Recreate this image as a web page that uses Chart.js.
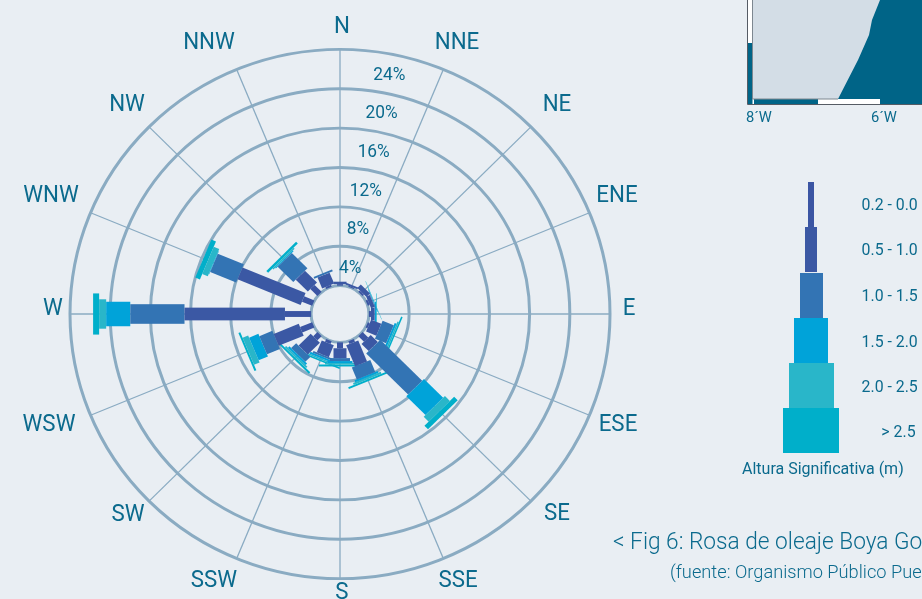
<!DOCTYPE html>
<html><head><meta charset="utf-8">
<script src="https://cdn.jsdelivr.net/npm/chart.js@4/dist/chart.umd.js"></script>
<style>
html,body{margin:0;padding:0;background:#e9eef3;width:922px;height:599px;overflow:hidden}
#wrap{position:relative;width:922px;height:599px;overflow:hidden}
canvas{position:absolute;left:0;top:0}
.t{position:absolute;color:#0b6a8d;font-family:Roboto,sans-serif;white-space:nowrap;transform-origin:0 50%;line-height:1}
.b{position:absolute}
</style></head><body>
<div id="wrap">
<canvas id="c" width="922" height="599"></canvas>
<svg style="position:absolute;left:0;top:0" width="922" height="130">
  <rect x="747" y="0" width="175" height="104" fill="#fff"/>
  <rect x="752.5" y="0" width="170" height="99" fill="#d3dde6"/>
  <polygon points="880,0 872,20 869,35 858,60 838,99 922,99 922,0" fill="#006487"/>
  <rect x="747" y="43" width="5.5" height="61" fill="#006487"/>
  <rect x="754" y="99" width="64" height="5" fill="#006487"/>
  <rect x="880" y="99" width="42" height="5" fill="#006487"/>
  <polyline points="747.5,0 747.5,104.5 922,104.5" fill="none" stroke="#555b64" stroke-width="1"/>
  <polyline points="752.5,0 752.5,99 838,99" fill="none" stroke="#7d8790" stroke-width="1"/>
</svg>
<div id="overlay"></div>
</div>
<script>
const directions = ['N','NNE','NE','ENE','E','ESE','SE','SSE','S','SSW','SW','WSW','W','WNW','NW','NNW'];
const class0 = [0.15,0.1,0.2,0.2,0.2,0.2,0.8,0.3,0.6,0.3,0.6,1.3,2.6,1.1,1.0,0.2];
const class1 = [0.25,0.2,0.5,0.4,0.35,1.1,1.0,2.3,1.0,1.3,1.7,2.7,10,6.8,1.7,1.2];
const class2 = [0,0,0,0.05,0.05,1.2,5.9,1.3,0.3,0.2,0.7,1.4,5.4,2.8,2.2,0.2];
const class3 = [0,0,0,0.05,0.1,0.2,2.7,0.2,0.2,0.2,0.2,1.0,2.4,0.05,0.1,0];
const class4 = [0,0,0,0.03,0.05,0.15,0.7,0.2,0.15,0.15,0.2,0.6,0.7,0.6,0.15,0];
const class5 = [0,0,0,0.03,0.05,0.15,0.5,0.2,0.2,0.15,0.2,0.2,0.6,0.5,0.25,0];
const classLabels = ['0.2 - 0.0','0.5 - 1.0','1.0 - 1.5','1.5 - 2.0','2.0 - 2.5','> 2.5'];
const tickValues = [4,8,12,16,20,24];

const seriesAll = [class0,class1,class2,class3,class4,class5];
const colours = ['#3b55a3','#3b58a4','#3374b4','#00a3d9','#29b6c9','#00afca'];
const barWidths = [6,13,20,25,30,42];
const legendWidths = [6,12,23,34,45,56];
const BG = '#e9eef3', GRID = '#8aabc2', TXT = '#0b6a8d';
const SQUASH_Y = 0.98; // the reference rose is very slightly flattened

class RoseBar extends Chart.Element {
  static id = 'roseBar';
  static defaults = {backgroundColor:'#000', barWidth:10};
  draw(ctx){
    if (this.outer - this.inner < 0.05) return;
    ctx.save();
    ctx.translate(this.xc,this.yc);
    ctx.rotate(this.angle);
    ctx.fillStyle = this.options.backgroundColor;
    const w = this.options.barWidth;
    ctx.fillRect(this.inner,-w/2,this.outer-this.inner,w);
    ctx.restore();
  }
  getCenterPoint(){return {x:this.xc,y:this.yc};}
  inRange(){return false;} inXRange(){return false;} inYRange(){return false;}
  tooltipPosition(){return this.getCenterPoint();}
}
class RoseController extends Chart.PolarAreaController {
  static id = 'rose';
  static defaults = {dataElementType:'roseBar'};
  updateElements(bars,start,count,mode){
    const scale = this.chart.scales.r, sets = this.chart.data.datasets;
    for (let i=start;i<start+count;i++){
      let base = 0;
      for (let d=0;d<this.index;d++) base += sets[d].data[i];
      const v = sets[this.index].data[i];
      this.updateElement(bars[i],i,{
        xc:scale.xCenter, yc:scale.yCenter,
        inner:scale.getDistanceFromCenterForValue(base),
        outer:scale.getDistanceFromCenterForValue(base+v),
        angle:scale.getIndexAngle(i)-Math.PI/2,
        options:this.resolveDataElementOptions(i,mode)
      },mode);
    }
  }
}
Chart.register(RoseBar,RoseController);

// text anchor centres of the compass labels, in page pixels
const compassAnchors = [[342,27],[457,43],[557,105],[617,196],[629,309],[618,425],[557,514],[458,581],[342,593],[214,581],[128,515],[49,425],[53,309],[51,196],[127,105],[209,43]];

function squeezed(ctx,text,x,y,font,sx,color){
  ctx.save();
  ctx.translate(x,y); ctx.scale(sx,1);
  ctx.font = font; ctx.fillStyle = color;
  ctx.textAlign='center'; ctx.textBaseline='middle';
  ctx.fillText(text,0,0);
  ctx.restore();
}
const rosePlugin = {
  id:'rosePlugin',
  beforeDraw(chart){
    const s = chart.scales.r, ctx = chart.ctx;
    ctx.save();
    ctx.translate(0,s.yCenter); ctx.scale(1,SQUASH_Y); ctx.translate(0,-s.yCenter);
  },
  beforeDatasetsDraw(chart){
    const s = chart.scales.r, ctx = chart.ctx;
    ctx.save();
    ctx.beginPath();
    ctx.arc(s.xCenter,s.yCenter,s.getDistanceFromCenterForValue(0),0,Math.PI*2);
    ctx.fillStyle = BG; ctx.fill();
    ctx.lineWidth = 3; ctx.strokeStyle = GRID; ctx.stroke();
    ctx.restore();
  },
  afterDatasetsDraw(chart){ chart.ctx.restore(); },
  afterDraw(chart){
    const s = chart.scales.r, ctx = chart.ctx;
    directions.forEach((d,i)=>squeezed(ctx,d,compassAnchors[i][0],compassAnchors[i][1],'400 24px Roboto',0.93,TXT));
    const a = 11.25*Math.PI/180;
    tickValues.forEach(v=>{
      const r = s.getDistanceFromCenterForValue(v)-22;
      squeezed(ctx,v+'%',s.xCenter+1+r*Math.sin(a),s.yCenter-r*Math.cos(a)*SQUASH_Y-0.5,'400 19px Roboto',0.91,TXT);
    });
  }
};

new Chart(document.getElementById('c'),{
  type:'rose',
  data:{labels:directions,datasets:seriesAll.map((data,i)=>({label:classLabels[i],data,backgroundColor:colours[i],barWidth:barWidths[i]}))},
  options:{
    responsive:false,animation:false,events:[],
    layout:{padding:{left:70,top:44,right:311,bottom:14}},
    plugins:{legend:{display:false},tooltip:{enabled:false}},
    scales:{r:{
      min:-2.88,max:24,
      afterBuildTicks(s){s.ticks = tickValues.map(v=>({value:v}));},
      ticks:{display:false},
      pointLabels:{display:false},
      grid:{circular:true,color:GRID,lineWidth:3},
      angleLines:{display:true,color:GRID,lineWidth:1.3}
    }}
  },
  plugins:[rosePlugin]
});

// legend and captions
const ov = document.getElementById('overlay');
function text(str,x,cy,size,sx,weight,right){
  const e = document.createElement('div');
  e.className='t'; e.textContent=str;
  e.style.fontSize=size+'px'; e.style.fontWeight=weight||400;
  e.style.top=(cy-size/2)+'px';
  if(right){e.style.right=(922-x)+'px';e.style.transformOrigin='100% 50%';}
  else e.style.left=x+'px';
  e.style.transform='scaleX('+sx+')';
  ov.appendChild(e);
}
const rowTops=[182,227,273,318,363,408], rowCy=[205,250,296,342,387,432];
classLabels.forEach((l,i)=>{
  const b=document.createElement('div');
  b.className='b';
  b.style.cssText='position:absolute;left:'+(811-legendWidths[i]/2)+'px;top:'+rowTops[i]+'px;width:'+legendWidths[i]+'px;height:45px;background:'+colours[i];
  ov.appendChild(b);
  text(l,i==5?916:918,rowCy[i],16,0.99,400,true);
});
text('Altura Significativa (m)',742,469,16,1.0,400);
text('8´W',746,117,15,0.98,400);
text('6´W',871,117,15,0.98,400);
text('< Fig 6: Rosa de oleaje Boya Go',613,541,24,0.945,300);
text('(fuente: Organismo Público Pue',670,571,19,0.96,300);
</script>
</body></html>
